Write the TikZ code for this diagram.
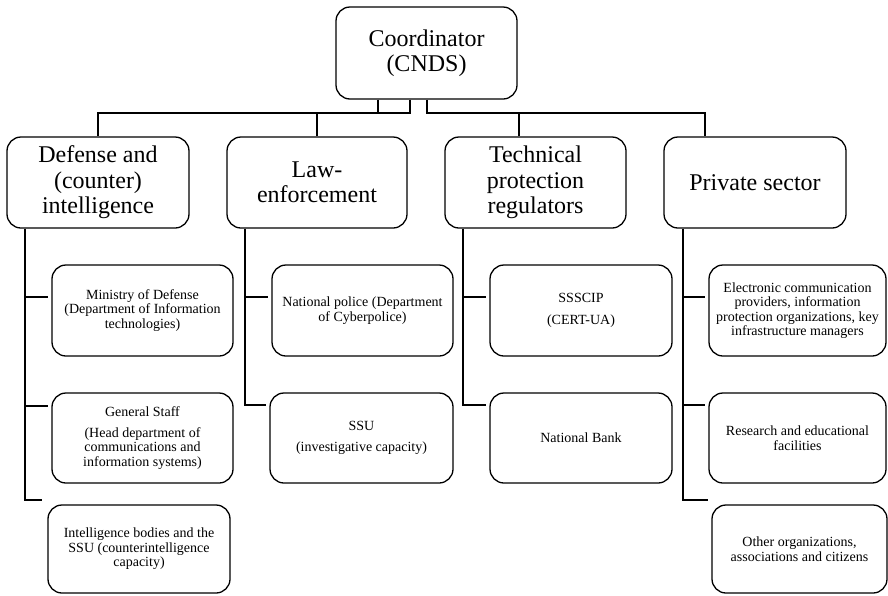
\documentclass[tikz,border=0pt]{standalone}
\usepackage{fontspec}
\setmainfont{Liberation Serif}
\begin{document}
\begin{tikzpicture}[x=1pt,y=-1pt, line width=1.3pt,
  box/.style={draw, rounded corners=14pt, inner sep=0pt, align=center},
  big/.style={box, font=\fontsize{24}{25.5}\selectfont},
  small/.style={box, font=\fontsize{14}{14.5}\selectfont, minimum width=181pt, minimum height=91pt},
  wire/.style={line width=1.3pt},
  branch/.style={wire, shorten >=3pt}]
\useasboundingbox[fill=white] (0,0) rectangle (888,595);

% top
\node[big, minimum width=181pt, minimum height=92pt] (coord) at (426.5,53) {Coordinator\\(CNDS)};

% level 2
\node[big, minimum width=182pt, minimum height=91pt] (def) at (98,182.5) {Defense and\\(counter)\\intelligence};
\node[big, minimum width=180pt, minimum height=91pt] (law) at (317,182.5) {Law-\\enforcement};
\node[big, minimum width=181pt, minimum height=91pt] (tech) at (535.5,182.5) {Technical\\protection\\regulators};
\node[big, minimum width=182pt, minimum height=91pt] (priv) at (755,182.5) {Private sector};

% level 3
\node[small] (mod) at (142.5,310.5) {Ministry of Defense\\(Department of Information\\technologies)};
\node[small, minimum height=90pt] (gs) at (142.5,438) {General Staff\\[6pt](Head department of\\communications and\\information systems)};
\node[small, minimum width=182pt, minimum height=88pt] (intel) at (139,549) {Intelligence bodies and the\\SSU (counterintelligence\\capacity)};

\node[small] (pol) at (362.5,310.5) {National police (Department\\of Cyberpolice)};
\node[small, minimum width=183pt, minimum height=90pt] (ssu) at (361.5,438) {SSU\\[7pt](investigative capacity)};

\node[small, minimum width=182pt] (sss) at (581,310.5) {SSSCIP\\[7pt](CERT-UA)};
\node[small, minimum width=182pt, minimum height=90pt] (nb) at (581,438) {National Bank};

\node[small, minimum width=177pt] (ecp) at (797.5,310.5) {Electronic communication\\providers, information\\protection organizations, key\\infrastructure managers};
\node[small, minimum width=177pt, minimum height=90pt] (res) at (797.5,438) {Research and educational\\facilities};
\node[small, minimum width=175pt, minimum height=88pt] (oth) at (799.5,549) {Other organizations,\\associations and citizens};

% top connectors
\draw[wire] (coord.south -| 410,0) |- (def.north |- 0,113) -- (def.north);
\draw[wire] (coord.south -| 378,0) -- (378,113);
\draw[wire] (law.north) -- (law.north |- 0,113);
\draw[wire] (coord.south -| 427,0) |- (705,113) -- (priv.north -| 705,0);
\draw[wire] (tech.north -| 519,0) -- (519,113);

% defense branch
\draw[wire, shorten >=5pt] (def.south -| 25,0) |- (intel.west |- 0,500);
\draw[branch] (25,297) -- (mod.west |- 0,297);
\draw[branch] (25,406) -- (gs.west |- 0,406);

% law branch
\draw[branch] (law.south -| 245,0) |- (ssu.west |- 0,405);
\draw[branch] (245,297) -- (pol.west |- 0,297);

% technical branch
\draw[branch] (tech.south -| 463,0) |- (nb.west |- 0,405);
\draw[branch] (463,297) -- (sss.west |- 0,297);

% private branch
\draw[branch] (priv.south -| 683,0) |- (oth.west |- 0,500);
\draw[branch] (683,297) -- (ecp.west |- 0,297);
\draw[branch] (683,405) -- (res.west |- 0,405);
\end{tikzpicture}
\end{document}
